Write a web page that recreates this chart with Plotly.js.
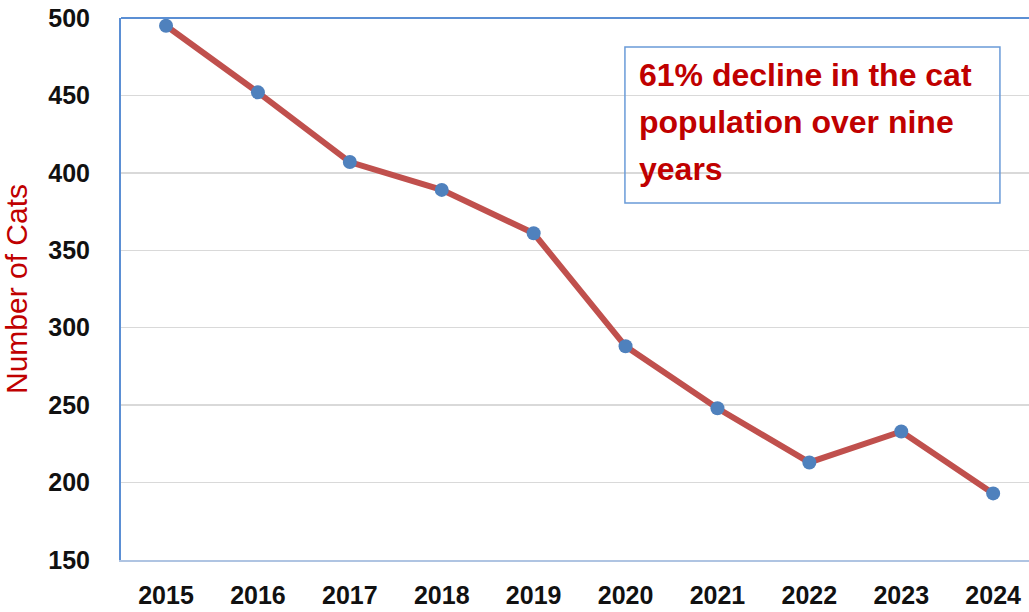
<!DOCTYPE html>
<html>
<head>
<meta charset="utf-8">
<script src="https://cdn.plot.ly/plotly-3.0.1.min.js"></script>
<style>
html,body{margin:0;padding:0;background:#fff;}
#chart{width:1029px;height:612px;}
</style>
</head>
<body>
<div id="chart"></div>
<script>
const years = [2015, 2016, 2017, 2018, 2019, 2020, 2021, 2022, 2023, 2024];
const yearLabels = ["2015","2016","2017","2018","2019","2020","2021","2022","2023","2024"];
const cats = [495, 452, 407, 389, 361, 288, 248, 213, 233, 193];
const yTicks = [150, 200, 250, 300, 350, 400, 450, 500];
const yAxisTitle = "Number of Cats";
const noteLines = ["61% decline in the cat", "population over nine", "years"];

const trace = {
  x: years,
  y: cats,
  type: 'scatter',
  mode: 'lines+markers',
  line: {color: '#C0504D', width: 6},
  marker: {color: '#4F81BD', size: 14},
  hoverinfo: 'x+y'
};

const noteFont = {family: 'Liberation Sans, Arial, sans-serif', size: 32, color: '#C00000', weight: 'bold'};
const lineY = [0.8948, 0.8081, 0.7214];
const noteAnnotations = noteLines.map((t, i) => ({
  xref: 'paper', yref: 'paper',
  x: 0.5694, y: lineY[i],
  xanchor: 'left', yanchor: 'middle',
  text: t,
  showarrow: false,
  align: 'left',
  borderpad: 0,
  font: noteFont
}));

const layout = {
  width: 1029,
  height: 612,
  margin: {l: 121, r: 0, t: 18, b: 52},
  paper_bgcolor: '#ffffff',
  plot_bgcolor: '#ffffff',
  showlegend: false,
  xaxis: {
    range: [2014.51, 2024.39],
    tickmode: 'array',
    tickvals: years,
    ticktext: yearLabels,
    showgrid: false,
    zeroline: false,
    showline: true,
    linecolor: '#AFC4E2',
    linewidth: 2,
    ticks: '',
    ticklabelstandoff: 12,
    tickfont: {family: 'Liberation Sans, Arial, sans-serif', size: 25, color: '#111111', weight: 'bold'}
  },
  yaxis: {
    range: [150, 500],
    tickmode: 'array',
    tickvals: yTicks,
    showgrid: true,
    gridcolor: '#D9D9D9',
    gridwidth: 1.5,
    zeroline: false,
    showline: true,
    linecolor: '#5B8FD4',
    linewidth: 2,
    ticks: '',
    ticklabelstandoff: 24,
    tickfont: {family: 'Liberation Sans, Arial, sans-serif', size: 25, color: '#111111', weight: 'bold'},
    title: {
      text: yAxisTitle,
      standoff: 34,
      font: {family: 'Liberation Sans, Arial, sans-serif', size: 30, color: '#C00000'}
    }
  },
  shapes: [
    {type: 'line', xref: 'paper', yref: 'paper', x0: 0, x1: 1, y0: 1, y1: 1,
     line: {color: '#5B8FD4', width: 2}},
    {type: 'rect', xref: 'paper', yref: 'paper', x0: 0.555, x1: 0.968, y0: 0.6587, y1: 0.9465,
     line: {color: '#6A9BD8', width: 1.5}, fillcolor: 'rgba(0,0,0,0)'}
  ],
  annotations: noteAnnotations
};

Plotly.newPlot('chart', [trace], layout, {displayModeBar: false, staticPlot: true});
</script>
</body>
</html>
